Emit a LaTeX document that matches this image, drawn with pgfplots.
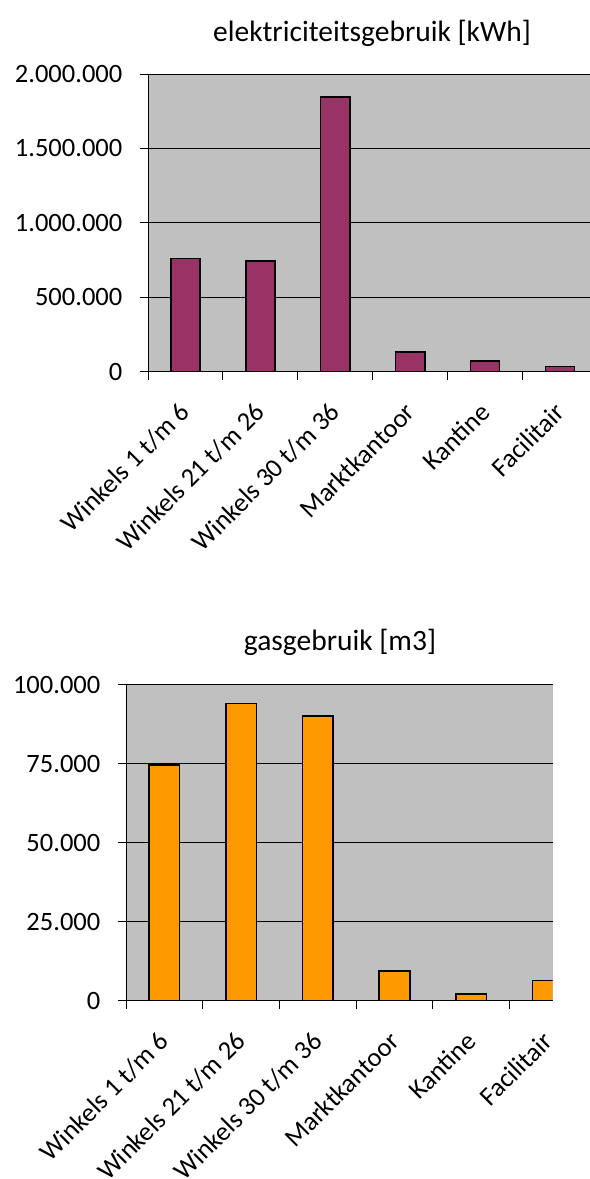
\documentclass[border=0pt]{standalone}
\usepackage{pgfplots}
\pgfplotsset{compat=1.18}
\usepackage{fontspec}
\setmainfont{Carlito}

\definecolor{plotbg}{HTML}{C0C0C0}
\definecolor{elec}{HTML}{993366}
\definecolor{gas}{HTML}{FF9900}

\pgfplotsset{
  verbruik/.style={
    scale only axis,
    anchor=south west,
    axis background/.style={fill=plotbg},
    axis lines*=left,
    axis line style={black, line width=1bp},
    ymin=0, xmin=-0.5,
    ymajorgrids,
    major grid style={black, line width=0.9bp},
    tick align=outside,
    major tick length=8.5bp,
    tick style={black, line width=1bp},
    % tick marks between the categories, without labels
    xtick={-0.5,0.5,1.5,2.5,3.5,4.5},
    xticklabel={\hbox{}},
    % category names, written at the category centres
    extra x ticks={0,1,2,3,4,5},
    extra x tick labels={Winkels 1 t/m 6, Winkels 21 t/m 26, Winkels 30 t/m 36,
                         Marktkantoor, Kantine, Facilitair},
    extra x tick style={major tick length=0pt, grid=none,
      xticklabel style={yshift=-36bp, rotate=45, anchor=east, inner sep=0bp}},
    yticklabel style={anchor=east, inner sep=0bp, xshift=-17bp},
    scaled y ticks=false,
    /pgf/number format/assume math mode=true,
    ybar, bar width=0.39,
    clip=true,
  }
}

\begin{document}
\begin{tikzpicture}[font=\fontsize{26.5bp}{32bp}\selectfont]
\clip (0,0) rectangle (590bp,1179bp);
\useasboundingbox (0,0) rectangle (590bp,1179bp);

% electricity use per building part
\begin{axis}[verbruik,
  at={(148bp,807.3bp)},
  width=442bp, height=297.6bp,
  xmax=5.401, ymax=2000000,
  ytick={0,500000,1000000,1500000,2000000},
  yticklabels={0,500.000,1.000.000,1.500.000,2.000.000},
]
\addplot[fill=elec, draw=black, line width=1.6bp] coordinates {
  (0,762000) (1,744000) (2,1846000) (3,133000) (4,72000) (5,36000)};
\end{axis}
\node[anchor=base, font=\fontsize{29.5bp}{34bp}\selectfont] at (372bp,1137.5bp) {elektriciteitsgebruik [kWh]};

% gas use per building part
\begin{axis}[verbruik,
  at={(126bp,178.3bp)},
  width=426.7bp, height=316bp,
  xmax=5.063, ymax=100000,
  ytick={0,25000,50000,75000,100000},
  yticklabels={0,25.000,50.000,75.000,100.000},
  bar width=0.40,
]
\addplot[fill=gas, draw=black, line width=1.6bp] coordinates {
  (0,74600) (1,94100) (2,90100) (3,9450) (4,2050) (5,6450)};
\end{axis}
\node[anchor=base, font=\fontsize{29.5bp}{34bp}\selectfont] at (340bp,528.3bp) {gasgebruik [m3]};
\end{tikzpicture}
\end{document}
